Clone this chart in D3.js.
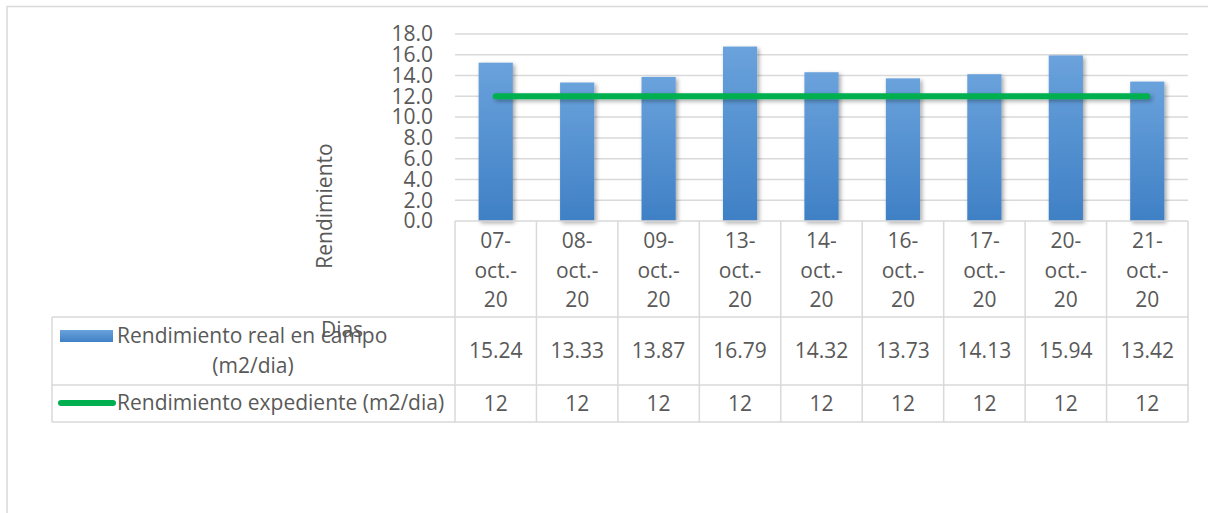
<!DOCTYPE html>
<html>
<head>
<meta charset="utf-8">
<script src="https://cdn.jsdelivr.net/npm/d3@7"></script>
<style>
  html, body { margin: 0; padding: 0; background: #fff; }
  svg { display: block; font-family: "Open Sans", "Noto Sans", sans-serif; }
</style>
</head>
<body>
<svg id="chart" width="1208" height="513"></svg>
<script>
// Daily yield data
const categories = ["07-oct.-20", "08-oct.-20", "09-oct.-20", "13-oct.-20", "14-oct.-20",
                    "16-oct.-20", "17-oct.-20", "20-oct.-20", "21-oct.-20"];
const realValues = [15.24, 13.33, 13.87, 16.79, 14.32, 13.73, 14.13, 15.94, 13.42];
const expectedValues = [12, 12, 12, 12, 12, 12, 12, 12, 12];
const yTicks = [0, 2, 4, 6, 8, 10, 12, 14, 16, 18];
const seriesNames = ["Rendimiento real en campo (m2/dia)", "Rendimiento expediente (m2/dia)"];
const yTitle = "Rendimiento";
const xTitle = "Dias";

const svg = d3.select("#chart");
const textColor = "#595959";
const gridColor = "#d9d9d9";
const fontSize = 21;

const plot = { left: 455, right: 1188, top: 34, bottom: 221 };
const table = { left: 52, row1: 317, row2: 385, row3: 422 };

const x = d3.scaleBand().domain(categories).range([plot.left, plot.right]).padding(0);
const y = d3.scaleLinear().domain([0, 18]).range([plot.bottom, plot.top]);

// defs: gradient + shadow
const defs = svg.append("defs");
const grad = defs.append("linearGradient").attr("id", "barGrad")
  .attr("x1", 0).attr("y1", 0).attr("x2", 0).attr("y2", 1);
grad.append("stop").attr("offset", "0%").attr("stop-color", "#6aa2dc");
grad.append("stop").attr("offset", "100%").attr("stop-color", "#3f80c5");
const shadow = defs.append("filter").attr("id", "shadow")
  .attr("filterUnits", "userSpaceOnUse")
  .attr("x", 0).attr("y", 0).attr("width", 1208).attr("height", 513);
shadow.append("feDropShadow").attr("dx", 2).attr("dy", 2).attr("stdDeviation", 2.2)
  .attr("flood-color", "#000").attr("flood-opacity", 0.35);

// outer chart frame
svg.append("path")
  .attr("d", `M7,513 V6.5 H1208`)
  .attr("fill", "none").attr("stroke", gridColor).attr("stroke-width", 1.5);

// gridlines
svg.append("g").selectAll("line").data(yTicks.filter(d => d > 0)).join("line")
  .attr("x1", plot.left).attr("x2", plot.right)
  .attr("y1", d => y(d)).attr("y2", d => y(d))
  .attr("stroke", gridColor).attr("stroke-width", 1.5);

// y axis tick labels
svg.append("g").selectAll("text").data(yTicks).join("text")
  .attr("x", 433).attr("y", d => y(d))
  .attr("dy", "0.35em")
  .attr("text-anchor", "end")
  .attr("fill", textColor).attr("font-size", fontSize)
  .text(d => d.toFixed(1));

// y axis title
svg.append("text")
  .attr("transform", `translate(332,206) rotate(-90)`)
  .attr("text-anchor", "middle")
  .attr("fill", textColor).attr("font-size", fontSize)
  .text(yTitle);

// bars
const barW = x.bandwidth() * 0.42;
svg.append("g").selectAll("rect").data(realValues).join("rect")
  .attr("x", (d, i) => x(categories[i]) + (x.bandwidth() - barW) / 2)
  .attr("y", d => y(d))
  .attr("width", barW)
  .attr("height", d => y(0) - y(d))
  .attr("fill", "url(#barGrad)")
  .attr("filter", "url(#shadow)");

// expected yield line
const line = d3.line()
  .x((d, i) => x(categories[i]) + x.bandwidth() / 2)
  .y(d => y(d));
svg.append("path").datum(expectedValues)
  .attr("d", line)
  .attr("fill", "none").attr("stroke", "#00b050")
  .attr("stroke-width", 6).attr("stroke-linecap", "round")
  .attr("filter", "url(#shadow)");

// data table grid
const tg = svg.append("g").attr("stroke", gridColor).attr("stroke-width", 1.5).attr("fill", "none");
tg.append("line").attr("x1", plot.left).attr("x2", plot.right).attr("y1", plot.bottom).attr("y2", plot.bottom);
[table.row1, table.row2, table.row3].forEach(yy => {
  tg.append("line").attr("x1", table.left).attr("x2", plot.right).attr("y1", yy).attr("y2", yy);
});
tg.append("line").attr("x1", table.left).attr("x2", table.left).attr("y1", table.row1).attr("y2", table.row3);
const colEdges = categories.map(c => x(c)).concat([plot.right]);
tg.selectAll(".v").data(colEdges).join("line")
  .attr("x1", d => d).attr("x2", d => d)
  .attr("y1", plot.bottom).attr("y2", table.row3);

// category labels (wrapped in three lines)
const catG = svg.append("g");
categories.forEach(c => {
  const parts = c.match(/^(\d+-)(.+-)(\d+)$/).slice(1);
  const cx = x(c) + x.bandwidth() / 2;
  parts.forEach((p, j) => {
    catG.append("text")
      .attr("x", cx).attr("y", 241 + j * 29.5)
      .attr("dy", "0.35em").attr("text-anchor", "middle")
      .attr("fill", textColor).attr("font-size", fontSize)
      .text(p);
  });
});

// value rows
const rows = [
  { values: realValues, y: 351, fmt: d => d.toFixed(2) },
  { values: expectedValues, y: 404, fmt: d => String(d) }
];
rows.forEach(r => {
  svg.append("g").selectAll("text").data(r.values).join("text")
    .attr("x", (d, i) => x(categories[i]) + x.bandwidth() / 2)
    .attr("y", r.y).attr("dy", "0.35em").attr("text-anchor", "middle")
    .attr("fill", textColor).attr("font-size", fontSize)
    .text(r.fmt);
});

// legend keys in the table
svg.append("rect").attr("x", 60).attr("y", 330).attr("width", 53).attr("height", 12)
  .attr("fill", "url(#barGrad)");
svg.append("line").attr("x1", 61).attr("x2", 113).attr("y1", 403).attr("y2", 403)
  .attr("stroke", "#00b050").attr("stroke-width", 6).attr("stroke-linecap", "round");

svg.append("text").attr("x", 117).attr("y", 336).attr("dy", "0.35em")
  .attr("fill", textColor).attr("font-size", fontSize)
  .text("Rendimiento real en campo");
svg.append("text").attr("x", 253).attr("y", 366).attr("dy", "0.35em").attr("text-anchor", "middle")
  .attr("fill", textColor).attr("font-size", fontSize)
  .text("(m2/dia)");
svg.append("text").attr("x", 117).attr("y", 403).attr("dy", "0.35em")
  .attr("fill", textColor).attr("font-size", fontSize)
  .text(seriesNames[1]);

// x axis title
svg.append("text").attr("x", 342).attr("y", 330).attr("dy", "0.35em").attr("text-anchor", "middle")
  .attr("fill", textColor).attr("font-size", fontSize)
  .text(xTitle);
</script>
</body>
</html>
